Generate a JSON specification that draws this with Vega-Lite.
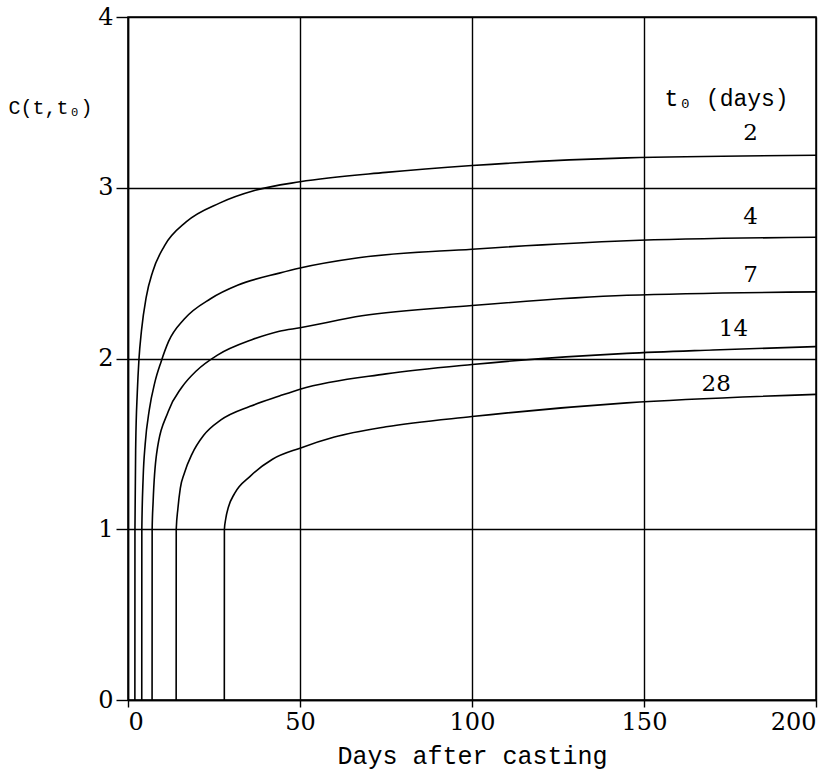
{
  "$schema": "https://vega.github.io/schema/vega-lite/v6.json",
  "width": 688,
  "height": 683,
  "autosize": "none",
  "padding": {"left": 128, "top": 17, "right": 20, "bottom": 78},
  "background": "white",
  "config": {
    "view": {"stroke": "black", "strokeWidth": 1.5},
    "axis": {
      "grid": true, "gridColor": "black", "gridOpacity": 1, "gridWidth": 1.4,
      "domainColor": "black", "domainWidth": 1.5, "tickColor": "black", "tickWidth": 1.4,
      "labelFont": "DejaVu Serif", "labelFontSize": 24, "labelColor": "black", "format": "d",
      "titleFont": "Liberation Mono", "titleFontSize": 25, "titleFontWeight": "normal", "titleColor": "black"
    }
  },
  "datasets": {
    "curves": [
      {"t0": 2, "t": 2, "C": 0}, {"t0": 2, "t": 2.02, "C": 1.0}, {"t0": 2, "t": 2.25, "C": 1.5}, {"t0": 2, "t": 2.7, "C": 1.8},
      {"t0": 2, "t": 3.2, "C": 2.0}, {"t0": 2, "t": 3.9, "C": 2.16}, {"t0": 2, "t": 5.3, "C": 2.36}, {"t0": 2, "t": 7.2, "C": 2.51},
      {"t0": 2, "t": 10.6, "C": 2.66}, {"t0": 2, "t": 16.9, "C": 2.8}, {"t0": 2, "t": 26.6, "C": 2.91}, {"t0": 2, "t": 37, "C": 2.985},
      {"t0": 2, "t": 50, "C": 3.035}, {"t0": 2, "t": 75, "C": 3.09}, {"t0": 2, "t": 100, "C": 3.13}, {"t0": 2, "t": 145, "C": 3.175},
      {"t0": 2, "t": 200, "C": 3.19},
      {"t0": 4, "t": 4, "C": 0}, {"t0": 4, "t": 4.02, "C": 1.0}, {"t0": 4, "t": 4.4, "C": 1.3}, {"t0": 4, "t": 5.0, "C": 1.5},
      {"t0": 4, "t": 6.2, "C": 1.7}, {"t0": 4, "t": 7.8, "C": 1.86}, {"t0": 4, "t": 9.6, "C": 1.98}, {"t0": 4, "t": 11.8, "C": 2.1}, {"t0": 4, "t": 16.3, "C": 2.23},
      {"t0": 4, "t": 24, "C": 2.35}, {"t0": 4, "t": 32, "C": 2.43}, {"t0": 4, "t": 44, "C": 2.5}, {"t0": 4, "t": 50, "C": 2.53},
      {"t0": 4, "t": 67, "C": 2.59}, {"t0": 4, "t": 100, "C": 2.64}, {"t0": 4, "t": 145, "C": 2.69}, {"t0": 4, "t": 200, "C": 2.71},
      {"t0": 7, "t": 7, "C": 0}, {"t0": 7, "t": 7.02, "C": 1.0}, {"t0": 7, "t": 7.3, "C": 1.16}, {"t0": 7, "t": 8.3, "C": 1.44},
      {"t0": 7, "t": 11.7, "C": 1.69}, {"t0": 7, "t": 15.6, "C": 1.83}, {"t0": 7, "t": 20, "C": 1.93}, {"t0": 7, "t": 26, "C": 2.02},
      {"t0": 7, "t": 36, "C": 2.11}, {"t0": 7, "t": 44, "C": 2.16}, {"t0": 7, "t": 50, "C": 2.18}, {"t0": 7, "t": 68, "C": 2.25},
      {"t0": 7, "t": 100, "C": 2.31}, {"t0": 7, "t": 145, "C": 2.37}, {"t0": 7, "t": 200, "C": 2.39},
      {"t0": 14, "t": 14, "C": 0}, {"t0": 14, "t": 14.02, "C": 1.0}, {"t0": 14, "t": 14.5, "C": 1.12}, {"t0": 14, "t": 15.2, "C": 1.24},
      {"t0": 14, "t": 16.4, "C": 1.33}, {"t0": 14, "t": 18.6, "C": 1.44}, {"t0": 14, "t": 22, "C": 1.55}, {"t0": 14, "t": 27, "C": 1.64},
      {"t0": 14, "t": 35.5, "C": 1.72}, {"t0": 14, "t": 44, "C": 1.78}, {"t0": 14, "t": 50, "C": 1.82}, {"t0": 14, "t": 75, "C": 1.91},
      {"t0": 14, "t": 100, "C": 1.965}, {"t0": 14, "t": 145, "C": 2.03}, {"t0": 14, "t": 170, "C": 2.05}, {"t0": 14, "t": 200, "C": 2.07},
      {"t0": 28, "t": 28, "C": 0}, {"t0": 28, "t": 28.02, "C": 1.0}, {"t0": 28, "t": 28.4, "C": 1.06}, {"t0": 28, "t": 29.2, "C": 1.13},
      {"t0": 28, "t": 31, "C": 1.21}, {"t0": 28, "t": 35.5, "C": 1.31}, {"t0": 28, "t": 42, "C": 1.41}, {"t0": 28, "t": 50, "C": 1.475},
      {"t0": 28, "t": 60, "C": 1.54}, {"t0": 28, "t": 75, "C": 1.6}, {"t0": 28, "t": 100, "C": 1.66}, {"t0": 28, "t": 145, "C": 1.74},
      {"t0": 28, "t": 200, "C": 1.79}
    ],
    "labels": [
      {"text": "t₀ (days)", "t": 174, "C": 3.52, "kind": "title"},
      {"text": "2", "t": 181, "C": 3.32, "kind": "num"},
      {"text": "4", "t": 181, "C": 2.83, "kind": "num"},
      {"text": "7", "t": 181, "C": 2.49, "kind": "num"},
      {"text": "14", "t": 176, "C": 2.17, "kind": "num"},
      {"text": "28", "t": 171, "C": 1.85, "kind": "num"}
    ]
  },
  "layer": [
    {
      "data": {"name": "curves"},
      "mark": {"type": "line", "color": "black", "strokeWidth": 1.6, "clip": true, "interpolate": "monotone"},
      "encoding": {
        "x": {
          "field": "t", "type": "quantitative",
          "scale": {"domain": [0, 200], "nice": false},
          "axis": {"values": [0, 50, 100, 150, 200], "title": "Days after casting", "tickSize": 7, "labelPadding": 3, "titlePadding": 9}
        },
        "y": {
          "field": "C", "type": "quantitative",
          "scale": {"domain": [0, 4], "nice": false},
          "axis": {"values": [0, 1, 2, 3, 4], "title": "C(t,t₀)", "tickSize": 12, "labelPadding": 3,
                   "titleAngle": 0, "titleX": -78, "titleY": 90, "titleAlign": "center", "titleBaseline": "middle", "titleFontSize": 20}
        },
        "detail": {"field": "t0"},
        "order": {"field": "C"}
      }
    },
    {
      "data": {"name": "labels"},
      "transform": [{"filter": "datum.kind == 'num'"}],
      "mark": {"type": "text", "font": "DejaVu Serif", "fontSize": 23, "color": "black", "align": "center", "baseline": "middle"},
      "encoding": {
        "x": {"field": "t", "type": "quantitative"},
        "y": {"field": "C", "type": "quantitative"},
        "text": {"field": "text"}
      }
    },
    {
      "data": {"name": "labels"},
      "transform": [{"filter": "datum.kind == 'title'"}],
      "mark": {"type": "text", "font": "Liberation Mono", "fontSize": 23, "color": "black", "align": "center", "baseline": "middle"},
      "encoding": {
        "x": {"field": "t", "type": "quantitative"},
        "y": {"field": "C", "type": "quantitative"},
        "text": {"field": "text"}
      }
    }
  ]
}
